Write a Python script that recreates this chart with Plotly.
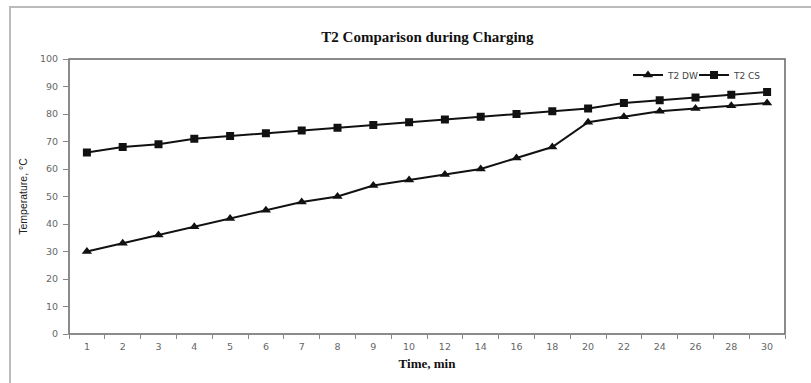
import plotly.graph_objects as go

time_labels = ["1", "2", "3", "4", "5", "6", "7", "8", "9", "10",
               "12", "14", "16", "18", "20", "22", "24", "26", "28", "30"]
t2_dw = [30, 33, 36, 39, 42, 45, 48, 50, 54, 56, 58, 60, 64, 68, 77, 79, 81, 82, 83, 84]
t2_cs = [66, 68, 69, 71, 72, 73, 74, 75, 76, 77, 78, 79, 80, 81, 82, 84, 85, 86, 87, 88]

fig = go.Figure()
fig.add_trace(go.Scatter(x=time_labels, y=t2_dw, name="T2 DW", mode="lines+markers",
                         line=dict(color="#111111", width=2),
                         marker=dict(symbol="triangle-up", size=9, color="#111111")))
fig.add_trace(go.Scatter(x=time_labels, y=t2_cs, name="T2 CS", mode="lines+markers",
                         line=dict(color="#111111", width=2),
                         marker=dict(symbol="square", size=8, color="#111111")))

fig.update_layout(
    width=811, height=383,
    margin=dict(l=69, r=26, t=59, b=49),
    paper_bgcolor="white", plot_bgcolor="white",
    title=dict(text="<b>T2 Comparison during Charging</b>", x=0.527, xanchor="center",
               y=1 - 37 / 383, yanchor="middle", yref="container",
               font=dict(family="Liberation Serif", size=15, color="#111111")),
    showlegend=True,
    legend=dict(orientation="h", x=(628 - 69) / 716, y=1 - (75 - 59) / 275,
                xanchor="left", yanchor="middle",
                font=dict(family="DejaVu Sans", size=9, color="#444444"),
                itemwidth=30, entrywidth=21, entrywidthmode="pixels",
                bgcolor="rgba(0,0,0,0)", tracegroupgap=0),
    xaxis=dict(type="category", range=[-0.5, 19.5], showgrid=False,
               ticks="outside", ticklen=4, tickcolor="#888888", tickson="boundaries",
               showline=False, ticklabelstandoff=5,
               tickfont=dict(family="DejaVu Sans", size=9.5, color="#666666"),
               title=dict(text="<b>Time, min</b>", standoff=8,
                          font=dict(family="Liberation Serif", size=13, color="#111111"))),
    yaxis=dict(range=[0, 100], dtick=10, showgrid=False, zeroline=False,
               ticks="outside", ticklen=5, tickcolor="#888888", showline=False,
               ticklabelstandoff=3,
               tickfont=dict(family="DejaVu Sans", size=9.5, color="#666666"),
               title=dict(text="Temperature, °C", standoff=10,
                          font=dict(family="Liberation Sans", size=10.5, color="#222222"))),
    shapes=[
        dict(type="rect", xref="paper", yref="paper", x0=0, x1=1, y0=0, y1=1,
             line=dict(color="#666666", width=1.5), layer="above"),
        dict(type="rect", xref="paper", yref="paper", x0=(10 - 69) / 716, x1=1.2,
             y0=-0.6, y1=1 + (59 - 7) / 275, line=dict(color="#bbbbbb", width=2), layer="below"),
    ],
)

fig.write_html("out.html")
